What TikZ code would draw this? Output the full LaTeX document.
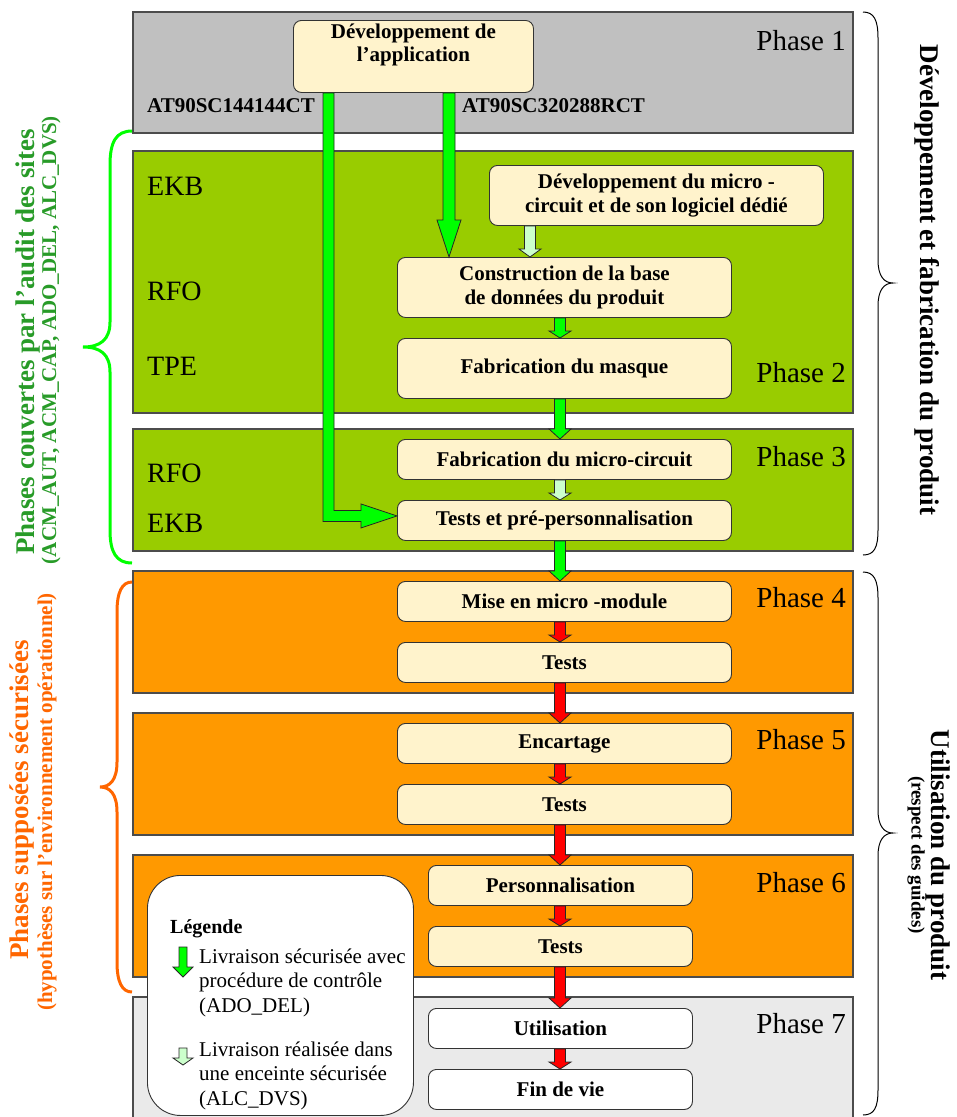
\documentclass[tikz,border=0pt]{standalone}
\usepackage{fontspec}
\setmainfont{Liberation Serif}
\usetikzlibrary{calc}
\definecolor{ph1}{HTML}{C0C0C0}
\definecolor{ph2}{HTML}{99CC00}
\definecolor{ph4}{HTML}{FF9900}
\definecolor{ph7}{HTML}{EAEAEA}
\definecolor{cream}{HTML}{FFF3CC}
\definecolor{agreen}{HTML}{00FF00}
\definecolor{apale}{HTML}{CCFFCC}
\definecolor{ared}{HTML}{FF0000}
\definecolor{tgreen}{RGB}{40,155,40}
\definecolor{orng}{HTML}{FF6600}
\tikzset{
  phase/.style={draw=black!70, line width=1.2pt},
  box/.style={draw=black!80, line width=0.9pt, rounded corners=8pt, fill=cream,
    inner sep=0pt, align=center, anchor=north west,
    font=\fontsize{21}{24}\selectfont\bfseries},
  wide/.style={box, minimum width=334pt},
  narrow/.style={box, minimum width=264pt, minimum height=40pt},
  phlab/.style={anchor=base east, inner sep=0pt, font=\fontsize{29}{32}\selectfont},
  site/.style={anchor=base west, inner sep=0pt, font=\fontsize{28}{32}\selectfont},
  ref/.style={anchor=base west, inner sep=0pt, font=\fontsize{21}{24}\selectfont\bfseries},
  arr/.style={draw=black!85, line width=0.8pt},
  gbrace/.style={draw=agreen, line width=3pt},
  obrace/.style={draw=orng, line width=3pt},
  kbrace/.style={draw=black, line width=1pt},
}
\newcommand\barrow[5]{%
  \path[arr, fill=#1] let \p1=(#3.south), \p2=(#4.north) in
   (#2pt-5.5pt,\y1) -- (#2pt-5.5pt,\y2+#5pt) -- (#2pt-11pt,\y2+#5pt) -- (#2pt,\y2)
   -- (#2pt+11pt,\y2+#5pt) -- (#2pt+5.5pt,\y2+#5pt) -- (#2pt+5.5pt,\y1) -- cycle;}
\newcommand\iconarrow[4]{%
  \path[arr, fill=#1] (179,#2) -- (179,#3) -- (173,#3) -- (183,#4) -- (193,#3)
   -- (187,#3) -- (187,#2) -- cycle;}
\begin{document}
\begin{tikzpicture}[x=1pt,y=-1pt]
\useasboundingbox (0,0) rectangle (957,1117);
% phase backgrounds
\draw[phase,fill=ph1] (133,12) rectangle (853,133);
\draw[phase,fill=ph2] (133,151) rectangle (853,413);
\draw[phase,fill=ph2] (133,429) rectangle (853,551);
\draw[phase,fill=ph4] (133,571) rectangle (853,693);
\draw[phase,fill=ph4] (133,713) rectangle (853,835);
\draw[phase,fill=ph4] (133,855) rectangle (853,977);
\draw[phase,fill=ph7] (133,997) rectangle (853,1122);
% phase labels
\node[phlab] (p1) at (846,50) {Phase 1};
\node[phlab] (p2) at (846,382) {Phase 2};
\node[phlab] (p3) at (846,466) {Phase 3};
\node[phlab] (p4) at (846,607) {Phase 4};
\node[phlab] (p5) at (846,749) {Phase 5};
\node[phlab] (p6) at (846,892) {Phase 6};
\node[phlab] (p7) at (846,1033) {Phase 7};
% sites
\node[site] (s1) at (147,195) {EKB};
\node[site] (s2) at (147,300) {RFO};
\node[site] (s3) at (147,375) {TPE};
\node[site] (s4) at (147,482) {RFO};
\node[site] (s5) at (147,532) {EKB};
\node[ref] (r1) at (147,112) {AT90SC144144CT};
\node[ref] (r2) at (462,112) {AT90SC320288RCT};
% boxes
\node[box, minimum width=240pt, minimum height=72pt] (app) at (293,20) {};
\node[anchor=north, align=center, inner sep=0pt, font=\fontsize{21}{23}\selectfont\bfseries]
  (apptxt) at ([yshift=-4pt]app.north) {Développement de\\l’application};
\node[wide, minimum height=60pt] (devmc) at (489,165) {Développement du micro -\\circuit et de son logiciel dédié};
\node[wide, minimum height=60pt] (cons) at (397,257) {Construction de la base\\de données du produit};
\node[wide, minimum height=60pt] (masque) at (397,338) {Fabrication du masque};
\node[wide, minimum height=40pt] (fabmc) at (397,439) {Fabrication du micro-circuit};
\node[wide, minimum height=40pt] (tpp) at (397,500) {Tests et pré-personnalisation};
\node[wide, minimum height=40pt] (mm) at (397,581) {Mise en micro -module};
\node[wide, minimum height=40pt] (t4) at (397,642) {Tests};
\node[wide, minimum height=40pt] (enc) at (397,723) {Encartage};
\node[wide, minimum height=40pt] (t5) at (397,784) {Tests};
\node[narrow] (perso) at (428,865) {Personnalisation};
\node[narrow] (t6) at (428,926) {Tests};
\node[narrow, fill=white] (util) at (428,1008) {Utilisation};
\node[narrow, fill=white] (fin) at (428,1069) {Fin de vie};
% big green arrows from the application box
\path[arr, fill=agreen] let \p1=(app.south), \p2=(cons.north) in
  (443pt,\y1) -- (443pt,\y2+37pt) -- (437pt,\y2+37pt) -- (449pt,\y2)
  -- (461pt,\y2+37pt) -- (455pt,\y2+37pt) -- (455pt,\y1) -- cycle;
\path[arr, fill=agreen] let \p1=(app.south), \p2=([yshift=4.5pt]tpp.west) in
  (323pt,\y1) -- (323pt,\y2-5.5pt) -- (\x2-36pt,\y2-5.5pt) -- (\x2-36pt,\y2-12pt)
  -- (\x2,\y2) -- (\x2-36pt,\y2+12pt) -- (\x2-36pt,\y2+5.5pt) -- (334pt,\y2+5.5pt)
  -- (334pt,\y1) -- cycle;
% flow arrows
\barrow{apale}{530}{devmc}{cons}{8}
\barrow{agreen}{560}{cons}{masque}{7}
\barrow{agreen}{560}{masque}{fabmc}{10}
\barrow{apale}{560}{fabmc}{tpp}{7}
\barrow{agreen}{560}{tpp}{mm}{10}
\barrow{ared}{560}{mm}{t4}{7}
\barrow{ared}{560}{t4}{enc}{10}
\barrow{ared}{560}{enc}{t5}{7}
\barrow{ared}{560}{t5}{perso}{10}
\barrow{ared}{560}{perso}{t6}{7}
\barrow{ared}{560}{t6}{util}{10}
\barrow{ared}{560}{util}{fin}{7}
% legend
\node[draw=black!80, line width=0.9pt, fill=white, rounded corners=33pt, anchor=north west,
  minimum width=266pt, minimum height=240pt, inner sep=0pt] (legend) at (147,875) {};
\node[anchor=base west, inner sep=0pt, font=\fontsize{20}{24}\selectfont\bfseries] (legt) at (170,933) {Légende};
\iconarrow{agreen}{947}{967}{977}
\iconarrow{apale}{1048}{1058}{1065}
\node[anchor=base west, inner sep=0pt, align=left, font=\fontsize{21}{24.2}\selectfont] (leg1) at (199,1012)
  {Livraison sécurisée avec\\procédure de contrôle\\(ADO\_DEL)};
\node[anchor=base west, inner sep=0pt, align=left, font=\fontsize{21}{24.2}\selectfont] (leg2) at (199,1105)
  {Livraison réalisée dans\\une enceinte sécurisée\\(ALC\_DVS)};
% left braces
\draw[gbrace] (132,131) .. controls (116,131) and (110,142) .. (110,165) -- (110,322)
  .. controls (110,340) and (100,347) .. (83,347) .. controls (100,347) and (110,354) .. (110,372)
  -- (110,530) .. controls (110,552) and (116,563) .. (132,563);
\draw[obrace] (132,582) .. controls (122,582) and (117,592) .. (117,612) -- (117,762)
  .. controls (117,780) and (110,787) .. (100,787) .. controls (110,787) and (117,794) .. (117,812)
  -- (117,962) .. controls (117,982) and (122,992) .. (132,992);
% right braces
\draw[kbrace] (863,12) .. controls (874,12) and (878,20) .. (878,38) -- (878,260)
  .. controls (878,276) and (884,283) .. (893,283) .. controls (884,283) and (878,290) .. (878,306)
  -- (878,530) .. controls (878,548) and (874,555) .. (863,555);
\draw[kbrace] (863,572) .. controls (874,572) and (878,580) .. (878,598) -- (878,810)
  .. controls (878,826) and (884,833) .. (893,833) .. controls (884,833) and (878,840) .. (878,856)
  -- (878,1090) .. controls (878,1108) and (874,1115) .. (863,1115);
% side texts
\node[rotate=90, text=tgreen, font=\fontsize{27}{30}\selectfont\bfseries] (gl1) at (28,342) {Phases couvertes par l’audit des sites};
\node[rotate=90, text=tgreen, font=\fontsize{21}{24}\selectfont\bfseries] (gl2) at (51,340) {(ACM\_AUT, ACM\_CAP, ADO\_DEL, ALC\_DVS)};
\node[rotate=90, text=orng, font=\fontsize{27}{30}\selectfont\bfseries] (ol1) at (22,800) {Phases supposées sécurisées};
\node[rotate=90, text=orng, font=\fontsize{21}{24}\selectfont\bfseries] (ol2) at (47,802) {(hypothèses sur l’environnement opérationnel)};
\node[rotate=-90, font=\fontsize{27}{30}\selectfont\bfseries] (rl1) at (927,280) {Développement et fabrication du produit};
\node[rotate=-90, font=\fontsize{27}{30}\selectfont\bfseries] (rl2) at (938,855) {Utilisation du produit};
\node[rotate=-90, font=\fontsize{19}{22}\selectfont\bfseries] (rl3) at (916,855) {(respect des guides)};
\end{tikzpicture}
\end{document}
